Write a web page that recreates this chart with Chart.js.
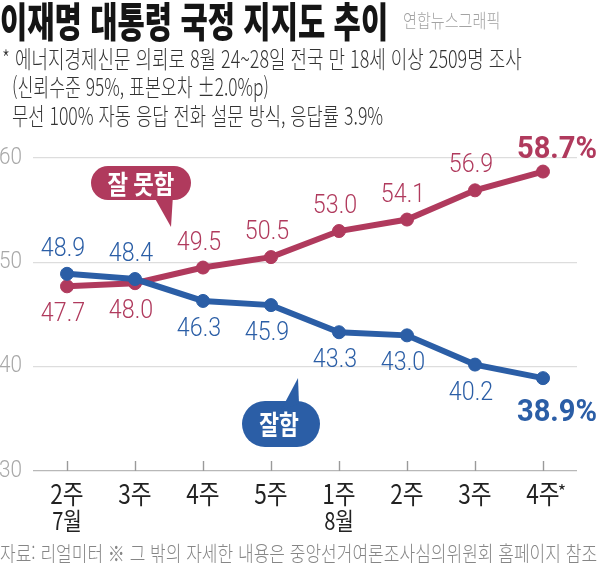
<!DOCTYPE html>
<html lang="ko">
<head>
<meta charset="utf-8">
<script src="https://cdn.jsdelivr.net/npm/chart.js@4.4.1/dist/chart.umd.min.js"></script>
<style>
    html, body { margin: 0; padding: 0; background: #fff; }
    body { width: 600px; height: 563px; position: relative; overflow: hidden; }
    #chart_poll { position: absolute; left: 0; top: 0; }
    .txt {
        position: absolute;
        white-space: nowrap;
        display: inline-block;
        transform-origin: 0 0;
        font-family: 'Noto Sans CJK KR', 'Noto Sans', sans-serif;
    }
    #title { left: 0; top: -1px; font-size: 41px; line-height: 41px; font-weight: 900; color: #151515; }
    #credit { left: 403px; top: 10px; font-size: 19px; line-height: 19px; font-weight: 300; color: #a3a3a3; }
    .sub { font-size: 24px; line-height: 24px; font-weight: 300; color: #333333; }
    #sub_1 { left: 2px; top: 46px; }
    #sub_2 { left: 12px; top: 74px; }
    #sub_3 { left: 12px; top: 103px; }
    #footer { left: 0; top: 542px; font-size: 21px; line-height: 21px; font-weight: 300; color: #868686; }
</style>
</head>
<body>
<canvas id="chart_poll" width="600" height="563"></canvas>
<div class="txt" id="title" data-w="388">이재명 대통령 국정 지지도 추이</div>
<div class="txt" id="credit" data-w="97">연합뉴스그래픽</div>
<div class="txt sub" id="sub_1" data-w="520">* 에너지경제신문 의뢰로 8월 24~28일 전국 만 18세 이상 2509명 조사</div>
<div class="txt sub" id="sub_2" data-w="257">(신뢰수준 95%, 표본오차 ±2.0%p)</div>
<div class="txt sub" id="sub_3" data-w="371">무선 100% 자동 응답 전화 설문 방식, 응답률 3.9%</div>
<div class="txt" id="footer" data-w="597">자료: 리얼미터 ※ 그 밖의 자세한 내용은 중앙선거여론조사심의위원회 홈페이지 참조</div>
<script>
const week_labels = ['2주', '3주', '4주', '5주', '1주', '2주', '3주', '4주*'];
const month_labels = ['7월', '', '', '', '8월', '', '', ''];
const approve_values = [48.9, 48.4, 46.3, 45.9, 43.3, 43.0, 40.2, 38.9];
const disapprove_values = [47.7, 48.0, 49.5, 50.5, 53.0, 54.1, 56.9, 58.7];
const y_ticks = [30, 40, 50, 60];
const approve_name = '잘함';
const disapprove_name = '잘 못함';

const poll_palette = {
    blue: '#2b5ea6',
    red: '#b03a5d',
    grid: '#dddddd',
    axis: '#b8b8b8',
    tick_text: '#a8a8a8',
    label_text: '#222222',
};

// squeeze text so it fits the width used in the original graphic
function fit_texts() {
    document.querySelectorAll('.txt').forEach(function (el) {
        const target = Number(el.dataset.w);
        const natural = el.offsetWidth;
        if (natural > 0) {
            el.style.transform = 'scaleX(' + (target / natural) + ')';
        }
    });
}

function draw_squeezed(ctx, text, x, y, sx, align) {
    ctx.save();
    ctx.translate(x, y);
    ctx.scale(sx, 1);
    ctx.textAlign = align || 'center';
    ctx.fillText(text, 0, 0);
    ctx.restore();
}

function round_rect_path(ctx, x, y, w, h, r) {
    ctx.moveTo(x + r, y);
    ctx.lineTo(x + w - r, y);
    ctx.arcTo(x + w, y, x + w, y + r, r);
    ctx.lineTo(x + w, y + h - r);
    ctx.arcTo(x + w, y + h, x + w - r, y + h, r);
    ctx.lineTo(x + r, y + h);
    ctx.arcTo(x, y + h, x, y + h - r, r);
    ctx.lineTo(x, y + r);
    ctx.arcTo(x, y, x + r, y, r);
    ctx.closePath();
}

const poll_plugin = {
    id: 'poll_plugin',
    afterDraw: function (chart) {
        const ctx = chart.ctx;
        const x_scale = chart.scales.x;
        const y_scale = chart.scales.y;
        const area = chart.chartArea;

        // y tick labels
        ctx.save();
        ctx.fillStyle = poll_palette.tick_text;
        ctx.font = '300 23px Roboto';
        ctx.textBaseline = 'middle';
        y_ticks.forEach(function (v) {
            draw_squeezed(ctx, String(v), area.left - 11, y_scale.getPixelForValue(v), 0.9, 'right');
        });
        ctx.restore();

        // small tick marks standing on the base line
        ctx.save();
        ctx.strokeStyle = '#9a9a9a';
        ctx.lineWidth = 1.4;
        week_labels.forEach(function (_, idx) {
            const px = Math.round(x_scale.getPixelForValue(idx)) + 0.5;
            ctx.beginPath();
            ctx.moveTo(px, area.bottom);
            ctx.lineTo(px, area.bottom - 10);
            ctx.stroke();
        });
        ctx.restore();

        // category labels
        ctx.save();
        ctx.fillStyle = poll_palette.label_text;
        ctx.textBaseline = 'middle';
        week_labels.forEach(function (lab, idx) {
            const px = x_scale.getPixelForValue(idx);
            ctx.font = '400 27px "Noto Sans CJK KR"';
            if (lab.endsWith('*')) {
                draw_squeezed(ctx, lab.slice(0, -1), px, area.bottom + 23, 0.84);
                ctx.font = '400 18px "Noto Sans CJK KR"';
                draw_squeezed(ctx, '*', px + 19, area.bottom + 20, 1);
            } else {
                draw_squeezed(ctx, lab, px, area.bottom + 23, 0.84);
            }
            if (month_labels[idx]) {
                ctx.font = '400 24px "Noto Sans CJK KR"';
                draw_squeezed(ctx, month_labels[idx], px, area.bottom + 50, 0.84);
            }
        });
        ctx.restore();

        // value labels
        const last = week_labels.length - 1;
        ctx.save();
        ctx.textBaseline = 'alphabetic';
        week_labels.forEach(function (_, idx) {
            const pairs = [
                { v: approve_values[idx], other: disapprove_values[idx], color: poll_palette.blue },
                { v: disapprove_values[idx], other: approve_values[idx], color: poll_palette.red },
            ];
            const px = x_scale.getPixelForValue(idx);
            pairs.forEach(function (p) {
                const py = y_scale.getPixelForValue(p.v);
                const above = p.v > p.other;
                ctx.fillStyle = p.color;
                if (idx === last) {
                    ctx.font = '700 31px Roboto';
                    draw_squeezed(ctx, p.v.toFixed(1) + '%', px + 14, above ? py - 14 : py + 43, 0.94);
                } else {
                    ctx.font = '300 25px Roboto';
                    draw_squeezed(ctx, p.v.toFixed(1), px - 4, above ? py - 18 : py + 35, 0.93);
                }
            });
        });
        ctx.restore();

        // speech bubbles
        ctx.save();
        const red_cx = x_scale.getPixelForValue(1) + 6;
        const red_cy = area.top + 25;
        ctx.fillStyle = poll_palette.red;
        ctx.beginPath();
        round_rect_path(ctx, red_cx - 50, red_cy - 17, 100, 34, 17);
        ctx.fill();
        ctx.beginPath();
        ctx.moveTo(red_cx + 12, red_cy + 12);
        ctx.lineTo(red_cx + 32, red_cy + 12);
        ctx.lineTo(red_cx + 30, red_cy + 44);
        ctx.closePath();
        ctx.fill();
        ctx.fillStyle = '#ffffff';
        ctx.font = '700 26px "Noto Sans CJK KR"';
        ctx.textBaseline = 'middle';
        draw_squeezed(ctx, disapprove_name, red_cx, red_cy + 1, 0.86);

        const blue_cx = x_scale.getPixelForValue(3) + 10;
        const blue_cy = area.bottom - 47;
        ctx.fillStyle = poll_palette.blue;
        ctx.beginPath();
        round_rect_path(ctx, blue_cx - 39, blue_cy - 23, 78, 46, 23);
        ctx.fill();
        ctx.beginPath();
        ctx.moveTo(blue_cx + 0, blue_cy - 14);
        ctx.lineTo(blue_cx + 18, blue_cy - 20);
        ctx.lineTo(blue_cx + 17, blue_cy - 46);
        ctx.closePath();
        ctx.fill();
        ctx.fillStyle = '#ffffff';
        ctx.font = '700 27px "Noto Sans CJK KR"';
        draw_squeezed(ctx, approve_name, blue_cx - 2, blue_cy + 1, 0.8);
        ctx.restore();
    },
};

function load_poll_chart() {
    const canvas = document.getElementById('chart_poll');
    new Chart(canvas.getContext('2d'), {
        type: 'line',
        data: {
            labels: week_labels,
            datasets: [
                {
                    label: approve_name,
                    data: approve_values,
                    borderColor: poll_palette.blue,
                    backgroundColor: poll_palette.blue,
                    pointBackgroundColor: poll_palette.blue,
                    pointBorderColor: poll_palette.blue,
                    borderWidth: 6,
                    pointRadius: 6.5,
                    pointBorderWidth: 1,
                    tension: 0,
                    fill: false,
                    clip: false,
                },
                {
                    label: disapprove_name,
                    data: disapprove_values,
                    borderColor: poll_palette.red,
                    backgroundColor: poll_palette.red,
                    pointBackgroundColor: poll_palette.red,
                    pointBorderColor: poll_palette.red,
                    borderWidth: 6,
                    pointRadius: 6.5,
                    pointBorderWidth: 1,
                    tension: 0,
                    fill: false,
                    clip: false,
                },
            ],
        },
        options: {
            responsive: false,
            animation: false,
            layout: { padding: { left: 33, right: 23, top: 158, bottom: 84 } },
            plugins: {
                legend: { display: false },
                tooltip: { enabled: false },
            },
            scales: {
                x: {
                    type: 'category',
                    offset: true,
                    grid: { display: false },
                    border: { display: false },
                    ticks: { display: false },
                },
                y: {
                    min: 30,
                    max: 60,
                    border: { display: false },
                    ticks: { display: false, stepSize: 10 },
                    grid: {
                        drawTicks: false,
                        lineWidth: 1.2,
                        color: function (c) {
                            return c.tick && c.tick.value === 30 ? poll_palette.axis : poll_palette.grid;
                        },
                    },
                },
            },
        },
        plugins: [poll_plugin],
    });
}

fit_texts();
load_poll_chart();
</script>
</body>
</html>
